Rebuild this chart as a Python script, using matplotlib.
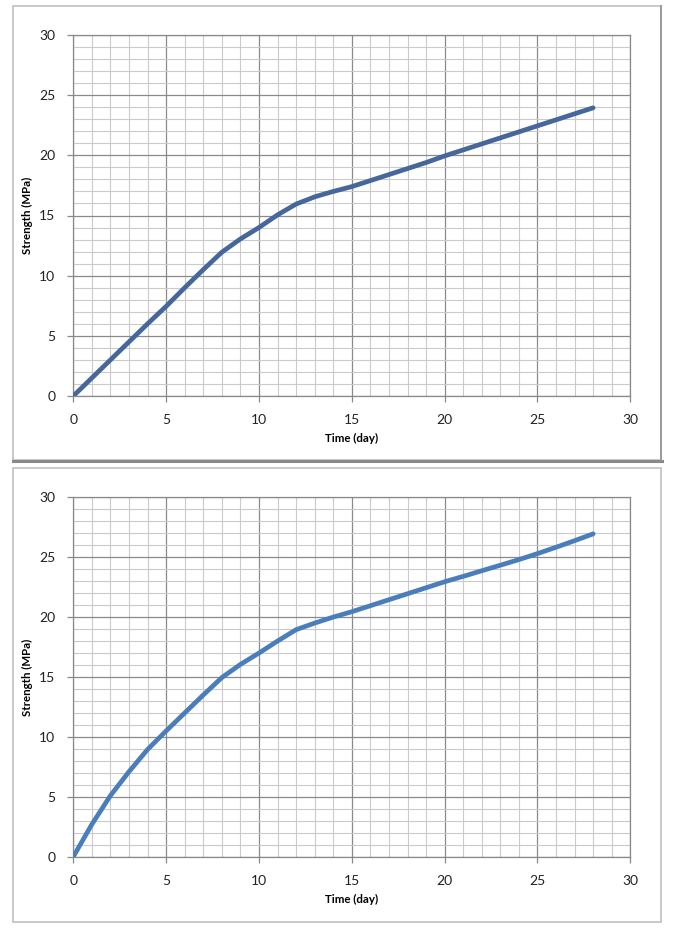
import matplotlib.pyplot as plt
from matplotlib.patches import Rectangle
from matplotlib.lines import Line2D
from matplotlib.ticker import MultipleLocator

# Strength gain readings, one per day
days = list(range(0, 29))
strength_top = [0, 1.5, 3.0, 4.5, 6.0, 7.45, 9.0, 10.5, 11.95, 13.05, 14.0, 15.05, 15.95,
                16.55, 17.0, 17.4, 17.9, 18.4, 18.9, 19.4, 19.95, 20.45, 20.95, 21.45,
                21.95, 22.45, 22.95, 23.45, 23.95]
strength_bottom = [0, 2.7, 5.1, 7.1, 8.95, 10.5, 12.0, 13.5, 14.95, 16.05, 17.0, 18.0, 18.95,
                   19.5, 20.0, 20.45, 20.95, 21.45, 21.95, 22.45, 22.95, 23.4, 23.87, 24.33,
                   24.8, 25.3, 25.83, 26.38, 26.95]

x_label = 'Time (day)'
y_label = 'Strength (MPa)'

plt.rcParams['font.family'] = ['Lato', 'DejaVu Sans']

W, H = 676, 935
fig = plt.figure(figsize=(W / 100, H / 100), dpi=100)


def fx(px):
    return px / W


def fy(py):
    return 1 - py / H


def frame(x0, y0, x1, y1, shadow):
    # chart area border like the spreadsheet one
    fig.patches.append(Rectangle((fx(x0), fy(y1)), fx(x1 - x0), (y1 - y0) / H,
                                 transform=fig.transFigure, fill=False,
                                 edgecolor='#c0c0c0', linewidth=1.2))
    if shadow:
        fig.lines.append(Line2D([fx(x0), fx(x1 + 1)], [fy(y1 + 0.5), fy(y1 + 0.5)],
                                transform=fig.transFigure, color='#888888', linewidth=2.2))
        fig.lines.append(Line2D([fx(x1 + 0.5), fx(x1 + 0.5)], [fy(y0), fy(y1)],
                                transform=fig.transFigure, color='#999999', linewidth=1.4))


def panel(top_px, bottom_px, values, color):
    ax = fig.add_axes([fx(73.3), fy(bottom_px), fx(630.3 - 73.3), (bottom_px - top_px) / H])
    ax.set_xlim(0, 30)
    ax.set_ylim(0, 30)
    ax.xaxis.set_major_locator(MultipleLocator(5))
    ax.yaxis.set_major_locator(MultipleLocator(5))
    ax.xaxis.set_minor_locator(MultipleLocator(1))
    ax.yaxis.set_minor_locator(MultipleLocator(1))
    ax.grid(which='minor', color='#cacaca', linewidth=0.8)
    ax.grid(which='major', color='#8a8a8a', linewidth=0.9)
    ax.set_axisbelow(True)
    for s in ax.spines.values():
        s.set_color('#8a8a8a')
        s.set_linewidth(0.9)
    ax.tick_params(which='major', direction='out', length=4, width=0.9, color='#8a8a8a',
                   labelsize=10, labelcolor='#222222', pad=9)
    ax.tick_params(which='minor', length=0)
    ax.plot(days, values, color=color, linewidth=3.4, solid_capstyle='round',
            solid_joinstyle='round', zorder=3)
    ax.set_xlabel(x_label, fontsize=8.3, fontweight='bold', labelpad=5)
    ax.set_ylabel(y_label, fontsize=8.3, fontweight='bold', labelpad=4)
    return ax


frame(12.5, 6, 660.5, 460.5, True)
frame(12.5, 468, 660.5, 922, False)

panel(35, 396, strength_top, '#46679c')
panel(497.3, 856.7, strength_bottom, '#4a7ebb')

fig.savefig('out.png', dpi=100)
